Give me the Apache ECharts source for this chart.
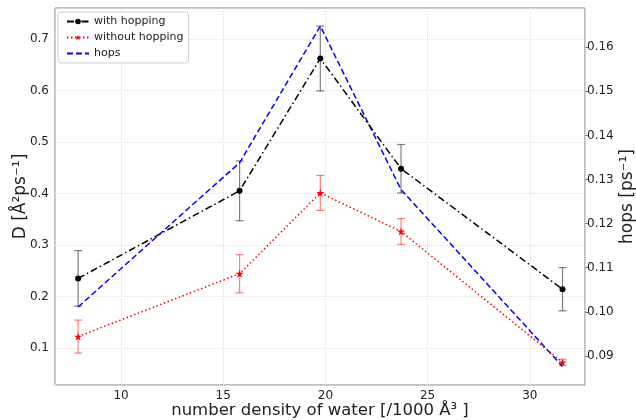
<!DOCTYPE html>
<html>
<head>
<meta charset="utf-8">
<script src="https://cdn.jsdelivr.net/npm/echarts@6/dist/echarts.min.js"></script>
<style>
    html, body { margin: 0; padding: 0; background: #fff; }
    #main { width: 636px; height: 420px; }
</style>
</head>
<body>
<div id="main"></div>
<script>
// number density of water [/1000 Å^3]
var density = [7.9, 15.8, 19.75, 23.7, 31.6];
// D with hopping and its error
var withHopping = [0.235, 0.405, 0.662, 0.448, 0.214];
var withHoppingErr = [0.054, 0.058, 0.063, 0.047, 0.042];
// D without hopping and its error
var withoutHopping = [0.122, 0.244, 0.401, 0.326, 0.072];
var withoutHoppingErr = [0.032, 0.037, 0.034, 0.025, 0.006];
// hop rate (right axis)
var hops = [0.1011, 0.1338, 0.1648, 0.1277, 0.0876];

var FONT = 'DejaVu Sans';
var TXT = '#222';

function pairs(ys) {
    return density.map(function (x, i) { return [x, ys[i]]; });
}
function errRows(ys, err) {
    return density.map(function (x, i) { return [x, ys[i], ys[i] - err[i], ys[i] + err[i]]; });
}
// error bar with caps, drawn through the axis scale
function errorBar(color) {
    return function (params, api) {
        var x = api.value(0);
        var lo = api.coord([x, api.value(2)]);
        var hi = api.coord([x, api.value(3)]);
        var cap = 4;
        var style = { stroke: color, lineWidth: 1.2 };
        return {
            type: 'group',
            children: [
                { type: 'line', shape: { x1: lo[0], y1: lo[1], x2: hi[0], y2: hi[1] }, style: style },
                { type: 'line', shape: { x1: lo[0] - cap, y1: lo[1], x2: lo[0] + cap, y2: lo[1] }, style: style },
                { type: 'line', shape: { x1: hi[0] - cap, y1: hi[1], x2: hi[0] + cap, y2: hi[1] }, style: style }
            ]
        };
    };
}

var star = 'path://M50,0 L61,35 L98,35 L68,57 L79,91 L50,70 L21,91 L32,57 L2,35 L39,35 Z';

var myChart = echarts.init(document.getElementById('main'));

var option = {
    animation: false,
    textStyle: { fontFamily: FONT },
    grid: {
        left: 55, right: 51, top: 8, bottom: 35,
        outerBoundsMode: 'none',
        containLabel: false,
        show: true, borderColor: '#808080', borderWidth: 1, backgroundColor: 'transparent'
    },
    legend: {
        orient: 'vertical',
        left: 58, top: 12,
        data: [
            { name: 'with hopping' },
            { name: 'without hopping' },
            { name: 'hops', itemStyle: { opacity: 0 } }
        ],
        backgroundColor: '#fff',
        borderColor: '#d0d0d0', borderWidth: 1, borderRadius: 3,
        padding: [4, 5, 4, 8],
        itemWidth: 22, itemHeight: 7, itemGap: 5,
        textStyle: { fontFamily: FONT, fontSize: 11, color: TXT }
    },
    xAxis: {
        type: 'value',
        min: 6.77, max: 32.7,
        minInterval: 5, maxInterval: 5,
        name: 'number density of water [/1000 Å³ ]',
        nameLocation: 'middle', nameGap: 17, nameMoveOverlap: false,
        nameTextStyle: { fontFamily: FONT, fontSize: 16.5, color: TXT },
        axisLine: { show: false },
        axisTick: { show: false },
        axisLabel: {
            showMinLabel: false, showMaxLabel: false,
            fontFamily: FONT, fontSize: 12, color: TXT, margin: 5,
            formatter: function (v) { return v % 5 === 0 ? String(v) : ''; }
        },
        splitLine: { show: true, lineStyle: { color: '#e0e0e0', type: 'dotted', width: 1 } }
    },
    yAxis: [
        {
            type: 'value',
            min: 0.028, max: 0.76,
            minInterval: 0.1, maxInterval: 0.1,
            name: 'D [Å²ps⁻¹]',
            nameLocation: 'middle', nameGap: 26, nameMoveOverlap: false,
            nameTextStyle: { fontFamily: FONT, fontSize: 17, color: TXT },
            axisLine: { show: false },
            axisTick: { show: false },
            axisLabel: {
                showMinLabel: false, showMaxLabel: false,
                fontFamily: FONT, fontSize: 12, color: TXT, margin: 6,
                formatter: function (v) { return v.toFixed(1); }
            },
            splitLine: { show: true, lineStyle: { color: '#e0e0e0', type: 'dotted', width: 1 } }
        },
        {
            type: 'value',
            position: 'right',
            min: 0.0834, max: 0.1689,
            minInterval: 0.01, maxInterval: 0.01,
            name: 'hops [ps⁻¹]',
            nameLocation: 'middle', nameGap: 34, nameRotate: 90, nameMoveOverlap: false,
            nameTextStyle: { fontFamily: FONT, fontSize: 17, color: TXT },
            axisLine: { show: false },
            axisTick: { show: true, inside: false, length: 3, lineStyle: { color: '#808080' } },
            axisLabel: {
                showMinLabel: false, showMaxLabel: false,
                fontFamily: FONT, fontSize: 12, color: TXT, margin: 2,
                formatter: function (v) { return v.toFixed(2); }
            },
            splitLine: { show: false }
        }
    ],
    series: [
        {
            name: 'with hopping err',
            type: 'custom',
            xAxisIndex: 0, yAxisIndex: 0,
            renderItem: errorBar('rgba(0,0,0,0.5)'),
            encode: { x: 0, y: [1, 2, 3] },
            data: errRows(withHopping, withHoppingErr),
            z: 1
        },
        {
            name: 'without hopping err',
            type: 'custom',
            xAxisIndex: 0, yAxisIndex: 0,
            renderItem: errorBar('rgba(255,0,0,0.5)'),
            encode: { x: 0, y: [1, 2, 3] },
            data: errRows(withoutHopping, withoutHoppingErr),
            z: 1
        },
        {
            name: 'with hopping',
            type: 'line',
            yAxisIndex: 0,
            data: pairs(withHopping),
            symbol: 'circle', symbolSize: 6,
            itemStyle: { color: '#000' },
            lineStyle: { color: '#000', width: 1.5, type: [7, 3, 1.5, 3] },
            z: 3
        },
        {
            name: 'without hopping',
            type: 'line',
            yAxisIndex: 0,
            data: pairs(withoutHopping),
            symbol: star, symbolSize: 8,
            itemStyle: { color: '#ff0000' },
            lineStyle: { color: '#ff0000', width: 1.5, type: [1.5, 2.5] },
            z: 3
        },
        {
            name: 'hops',
            type: 'line',
            yAxisIndex: 1,
            data: pairs(hops),
            symbol: 'none',
            itemStyle: { color: '#0000ff' },
            lineStyle: { color: '#0000ff', width: 1.5, type: [6, 3] },
            z: 2
        }
    ]
};

myChart.setOption(option);
</script>
</body>
</html>
